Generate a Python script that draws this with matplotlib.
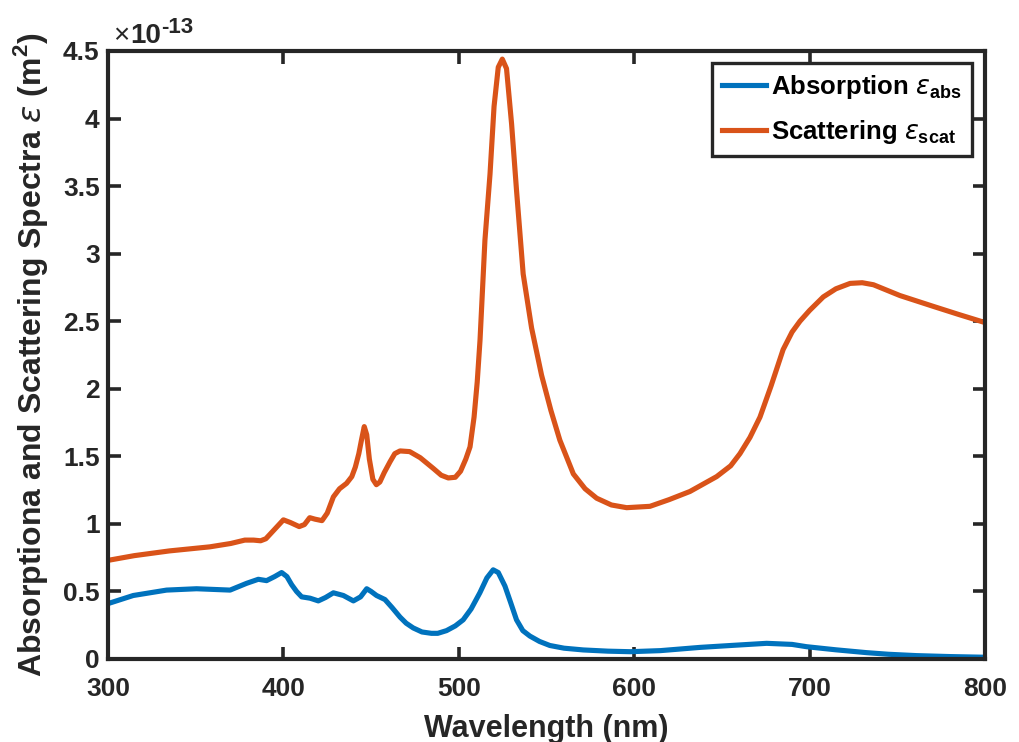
import matplotlib
matplotlib.use("Agg")
import matplotlib.pyplot as plt

# Scattering spectrum (x 1e-13 m^2)
scat_wl = [300, 315, 335, 358, 370, 378, 383, 387, 390, 395, 400, 404, 409, 412, 415,
           418, 422, 425, 428.5, 432, 436, 439, 441, 443, 444.5, 446.1, 447.5, 449,
           451, 453, 455, 457.5, 460.8, 463.5, 466.5, 472, 478, 485.5, 490, 494, 498,
           501, 504, 506.4, 508.7, 510.5, 512.1, 514.9, 517.8, 520.1, 522.5, 524.8,
           527.2, 530.1, 532.9, 536.7, 541.5, 547.2, 552.5, 557.6, 565.3, 572, 578.6,
           587, 595.7, 609, 620, 631.8, 647, 655, 660.3, 666, 671.7, 678, 684.9, 690,
           694.5, 700, 707.8, 715, 723.1, 730, 736.4, 751.5, 770.5, 785, 800]
scat_val = [0.73, 0.765, 0.80, 0.83, 0.855, 0.88, 0.88, 0.875, 0.89, 0.96, 1.03, 1.01,
            0.98, 0.995, 1.046, 1.035, 1.024, 1.08, 1.20, 1.26, 1.30, 1.35, 1.42, 1.52,
            1.62, 1.72, 1.66, 1.48, 1.33, 1.29, 1.31, 1.38, 1.46, 1.52, 1.54, 1.535,
            1.49, 1.41, 1.36, 1.34, 1.345, 1.39, 1.48, 1.57, 1.79, 2.05, 2.36, 3.10,
            3.59, 4.09, 4.38, 4.44, 4.37, 3.96, 3.47, 2.85, 2.45, 2.10, 1.84, 1.62,
            1.37, 1.26, 1.19, 1.14, 1.12, 1.13, 1.18, 1.24, 1.35, 1.43, 1.52, 1.64,
            1.79, 2.02, 2.29, 2.42, 2.50, 2.58, 2.68, 2.74, 2.78, 2.785, 2.77, 2.69,
            2.61, 2.55, 2.49]

# Absorption spectrum (x 1e-13 m^2)
abs_wl = [300, 314.4, 333.4, 350.5, 369.6, 379, 385.7, 390.4, 395, 399, 402, 404.7,
          407.5, 410.4, 415.2, 419.9, 424, 428.5, 434.2, 439.9, 444, 447.5, 450, 453.1,
          457.9, 462, 466.5, 470, 474, 479, 484.4, 488, 493, 498, 502.5, 507, 512,
          516, 519.6, 522.5, 526.3, 529.5, 532.9, 536.5, 540.5, 546, 551.9, 560, 571,
          585, 597.7, 615, 637.6, 655, 675.5, 690, 698.3, 715, 732.5, 745, 761, 780,
          800]
abs_val = [0.41, 0.47, 0.51, 0.52, 0.51, 0.56, 0.59, 0.58, 0.61, 0.64, 0.61, 0.55, 0.50,
           0.46, 0.45, 0.43, 0.455, 0.49, 0.47, 0.43, 0.46, 0.52, 0.50, 0.47, 0.44, 0.38,
           0.31, 0.265, 0.23, 0.20, 0.19, 0.19, 0.21, 0.245, 0.29, 0.37, 0.49, 0.60,
           0.66, 0.64, 0.54, 0.42, 0.29, 0.21, 0.17, 0.13, 0.10, 0.08, 0.067, 0.058,
           0.054, 0.062, 0.086, 0.10, 0.116, 0.108, 0.091, 0.068, 0.047, 0.035, 0.025,
           0.018, 0.013]

xticks = [300, 400, 500, 600, 700, 800]
yticks = [0, 0.5, 1, 1.5, 2, 2.5, 3, 3.5, 4, 4.5]
ytick_labels = ["0", "0.5", "1", "1.5", "2", "2.5", "3", "3.5", "4", "4.5"]

plt.rcParams['font.family'] = ['Liberation Sans', 'DejaVu Sans']
plt.rcParams['mathtext.fontset'] = 'custom'
plt.rcParams['mathtext.rm'] = 'Liberation Sans'
plt.rcParams['mathtext.bf'] = 'Liberation Sans:bold'
plt.rcParams['mathtext.it'] = 'DejaVu Sans:italic'

W, H = 1019, 742
fig = plt.figure(figsize=(W / 100, H / 100), dpi=100)
ax = fig.add_axes([108 / W, 1 - 659 / H, (985 - 108) / W, (659 - 51) / H])

blue = '#0072BD'
orange = '#D95319'
dark = '#262626'
ax.plot(abs_wl, abs_val, color=blue, lw=3.7, label=r'Absorption $\epsilon_{\mathbf{abs}}$',
        solid_joinstyle='round')
ax.plot(scat_wl, scat_val, color=orange, lw=3.7, label=r'Scattering $\epsilon_{\mathbf{scat}}$',
        solid_joinstyle='round')

ax.set_xlim(300, 800)
ax.set_ylim(0, 4.5)
ax.set_xticks(xticks)
ax.set_xticklabels([str(t) for t in xticks])
ax.set_yticks(yticks)
ax.set_yticklabels(ytick_labels)

for lab in ax.get_xticklabels() + ax.get_yticklabels():
    lab.set_fontweight('bold')
    lab.set_fontsize(19)

ax.tick_params(direction='in', length=9, width=2.6, top=True, right=True,
               colors=dark, labelcolor=dark)
ax.tick_params(axis='x', pad=13)
ax.tick_params(axis='y', pad=6)
for sp in ax.spines.values():
    sp.set_linewidth(3)
    sp.set_color(dark)

ax.set_xlabel('Wavelength (nm)', fontsize=22, fontweight='bold', color=dark, labelpad=9)
ax.set_ylabel(r'Absorptiona and Scattering Spectra $\epsilon$ (m$^\mathbf{2}$)', fontsize=23,
              fontweight='bold', color=dark, labelpad=9)

# exponent label (x10^-13)
t1 = fig.text(113 / W, 1 - 43 / H, '×', fontsize=20, color=dark, ha='left', va='baseline')
t2 = ax.annotate('10', xy=(1, 0), xycoords=t1, xytext=(1, 0), textcoords='offset points',
                 fontsize=20, fontweight='bold', color=dark, ha='left', va='bottom')
t3 = ax.annotate('-13', xy=(1, 1), xycoords=t2, xytext=(0, -3), textcoords='offset points',
                 fontsize=16, fontweight='bold', color=dark, ha='left', va='center')

leg = ax.legend(loc='upper right', prop={'weight': 'bold', 'size': 18.5},
                frameon=True, fancybox=False, edgecolor=dark, handlelength=1.7,
                handletextpad=0.2, borderpad=0.4, labelspacing=0.65, borderaxespad=0,
                bbox_to_anchor=(1 - 13 / 877, 1 - 12 / 608))
leg.get_frame().set_linewidth(2.4)
leg.get_frame().set_alpha(1)
for t in leg.get_texts():
    t.set_color('black')

fig.savefig('out.png', dpi=100)
